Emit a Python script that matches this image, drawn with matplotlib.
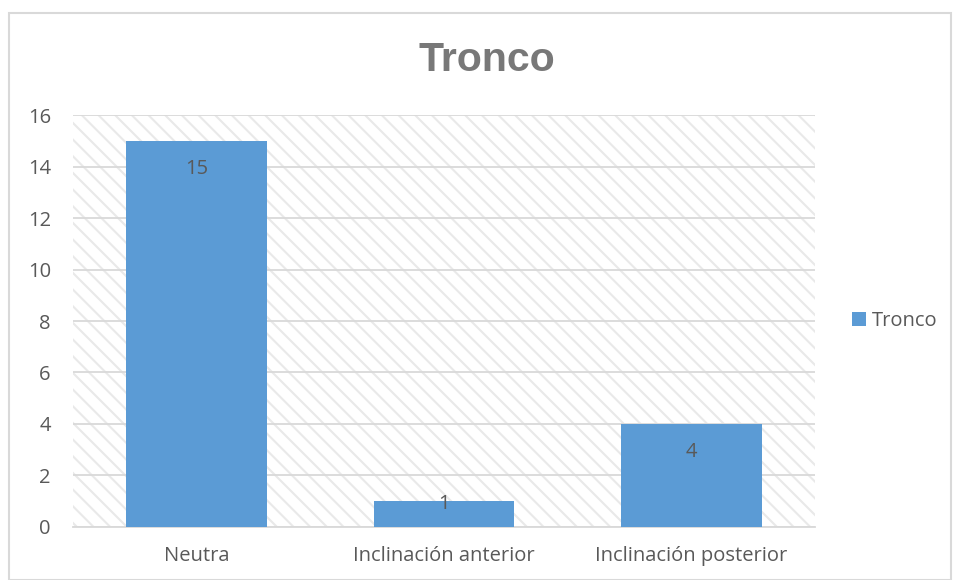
import matplotlib.pyplot as plt
from matplotlib.patches import Rectangle

plt.rcParams['font.family'] = ['Open Sans', 'DejaVu Sans']
plt.rcParams['hatch.linewidth'] = 1.5

categories = ['Neutra', 'Inclinación anterior', 'Inclinación posterior']
values = [15, 1, 4]
series_name = 'Tronco'
yticks = [0, 2, 4, 6, 8, 10, 12, 14, 16]

bar_color = '#5b9bd5'
text_color = '#595959'
grid_color = '#d9d9d9'
fs = 14.5

fig = plt.figure(figsize=(9.56, 5.8), dpi=100)
fig.patches.append(Rectangle((0.0095, 0.0), 0.985, 0.978, transform=fig.transFigure,
                             fill=False, edgecolor=grid_color, linewidth=1.5))

ax = fig.add_axes([0.0764, 0.0914, 0.7761, 0.7103])
ax.patch.set_facecolor('white')
ax.patch.set_hatch('\\\\')
ax.patch.set_edgecolor('#e9e9e9')
ax.patch.set_linewidth(0)

x = range(len(categories))
bars = ax.bar(x, values, width=0.57, color=bar_color, label=series_name, zorder=3)

ax.set_xlim(-0.5, len(categories) - 0.5)
ax.set_ylim(0, 16)
ax.set_yticks(yticks)
ax.set_xticks(list(x))
ax.set_xticklabels(categories)
ax.yaxis.grid(True, color=grid_color, linewidth=1.3, zorder=1)
ax.set_axisbelow(True)
for side in ['left', 'right', 'top']:
    ax.spines[side].set_visible(False)
ax.spines['bottom'].set_color(grid_color)
ax.spines['bottom'].set_linewidth(1.3)
ax.tick_params(axis='both', length=0, labelsize=fs, colors=text_color)
ax.tick_params(axis='x', pad=14)
ax.tick_params(axis='y', pad=16)

# value labels at the inside end of each bar
for rect, v in zip(bars, values):
    off = -20 if v > 2 else -2
    ax.annotate(str(v), (rect.get_x() + rect.get_width() / 2, v),
                xytext=(0, off), textcoords='offset points',
                ha='center', va='center', fontsize=fs, color=text_color, zorder=4)

fig.text(0.509, 0.897, 'Tronco', ha='center', va='center', fontsize=29.5,
         fontweight='bold', color='#787878', family='Liberation Sans')

leg = ax.legend(loc='center left', bbox_to_anchor=(1.025, 0.5), frameon=False,
                fontsize=fs, handlelength=0.7, handleheight=0.7, handletextpad=0.3)
for t in leg.get_texts():
    t.set_color(text_color)

fig.savefig('out.png', dpi=100)
